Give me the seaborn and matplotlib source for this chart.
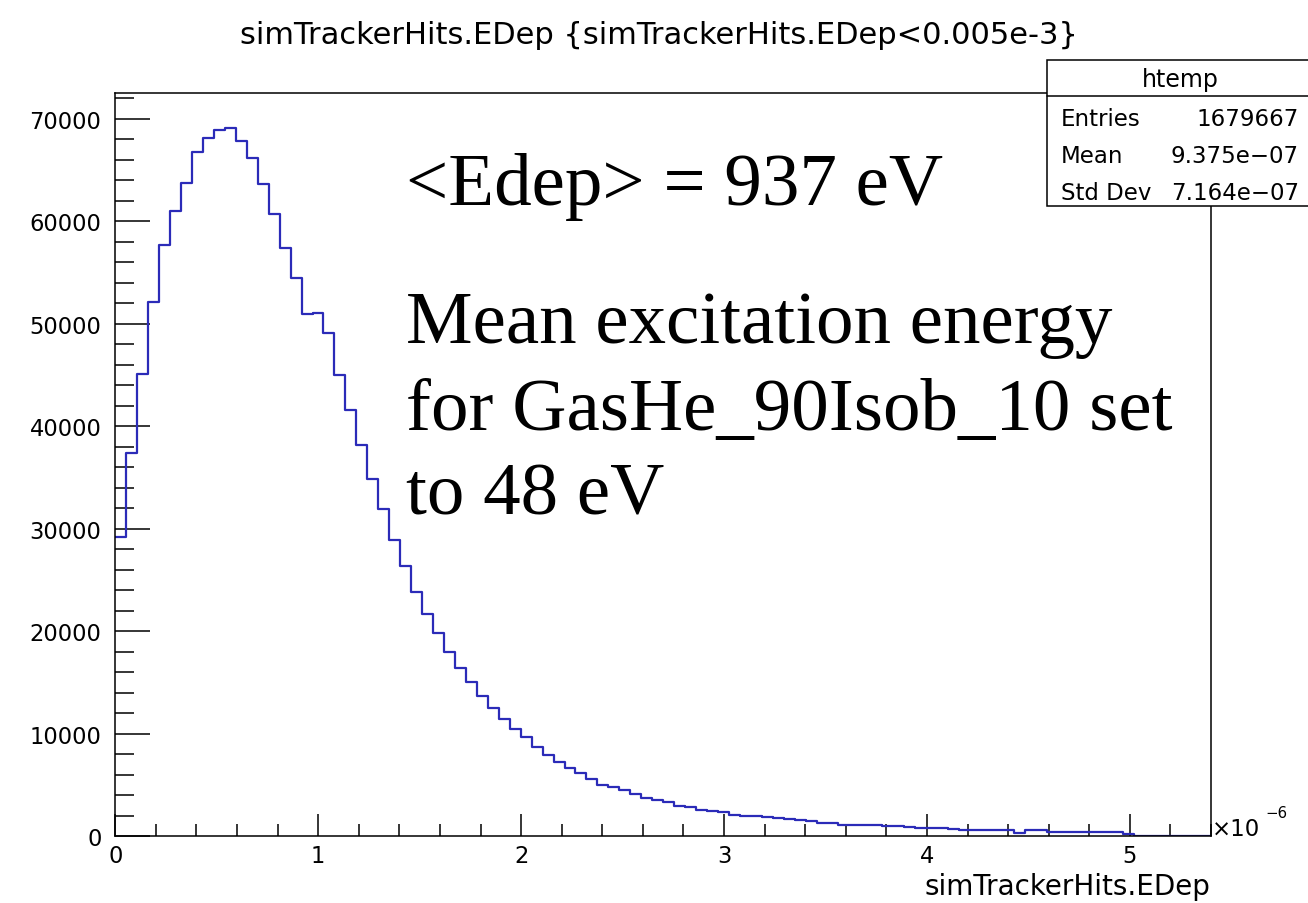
import numpy as np
import pandas as pd
import seaborn as sns
import matplotlib.pyplot as plt
from matplotlib.ticker import MultipleLocator, FuncFormatter
from matplotlib.patches import Rectangle

sns.set_style('ticks')
plt.rcParams['font.family'] = ['DejaVu Sans']
plt.rcParams['text.color'] = 'black'
plt.rcParams['xtick.color'] = 'black'
plt.rcParams['ytick.color'] = 'black'

# histogram definition (ROOT htemp: 100 bins from 0 to 5.4e-6)
n_bins = 100
x_min, x_max = 0.0, 5.4e-6

# bin contents (bins with data only, the rest are empty)
counts = [29200, 37400, 45100, 52100, 57700, 61000, 63700, 66700, 68100, 68900,
          69100, 67800, 66200, 63600, 60700, 57400, 54400, 50900, 51000, 49100,
          45000, 41600, 38200, 34800, 31900, 28900, 26300, 23800, 21700, 19800,
          18000, 16400, 15000, 13700, 12500, 11400, 10400, 9700, 8700, 7900,
          7200, 6600, 6100, 5600, 5000, 4800, 4500, 4100, 3700, 3500,
          3300, 2900, 2800, 2500, 2400, 2300, 2050, 2000, 1950, 1900,
          1750, 1700, 1520, 1500, 1300, 1280, 1100, 1100, 1080, 1080,
          940, 940, 920, 750, 740, 740, 720, 560, 550, 550,
          550, 540, 320, 580, 570, 400, 390, 390, 390, 380,
          380, 380, 160]

title = 'simTrackerHits.EDep {simTrackerHits.EDep<0.005e-3}'
x_title = 'simTrackerHits.EDep'
stats_name = 'htemp'
stats_rows = [('Entries', '1679667'), ('Mean', '9.375e\u221207'), ('Std Dev', '7.164e\u221207')]
note_lines = ['<Edep> = 937 eV', 'Mean excitation energy', 'for GasHe_90Isob_10 set', 'to 48 eV']

edges = np.linspace(x_min, x_max, n_bins + 1)
centers = (edges[:-1] + edges[1:])[:len(counts)] / 2
df = pd.DataFrame({'edep': centers, 'count': counts})

W, H = 1308, 904
fig = plt.figure(figsize=(W / 100, H / 100), dpi=100)
fig.patch.set_facecolor('white')
ax = fig.add_axes([115.3 / W, 1 - 837 / H, (1211 - 115.3) / W, (837 - 94) / H])

sns.histplot(data=df, x='edep', weights='count', bins=n_bins, binrange=(x_min, x_max),
             element='step', fill=False, color='#2b2bb8', linewidth=1.6, ax=ax)

ax.set_xlim(x_min, x_max)
ax.set_ylim(0, 72500)
ax.set_xlabel('')
ax.set_ylabel('')
for s in ax.spines.values():
    s.set_visible(True)
    s.set_linewidth(1.1)
    s.set_color('black')

ax.xaxis.set_major_locator(MultipleLocator(1e-6))
ax.xaxis.set_minor_locator(MultipleLocator(0.2e-6))
ax.xaxis.set_major_formatter(FuncFormatter(lambda v, p: f'{v * 1e6:.0f}'))
ax.yaxis.set_major_locator(MultipleLocator(10000))
ax.yaxis.set_minor_locator(MultipleLocator(2000))
ax.tick_params(axis='x', which='major', direction='in', length=15.6, width=1.1, pad=6, labelsize=16.3)
ax.tick_params(axis='x', which='minor', direction='in', length=8.4, width=1.1)
ax.tick_params(axis='y', which='major', direction='in', length=25, width=1.1, pad=10, labelsize=16.3)
ax.tick_params(axis='y', which='minor', direction='in', length=13.7, width=1.1)
ax.tick_params(top=False, right=False, which='both')

# title and axis title
fig.text(659 / W, 1 - 44 / H, title, ha='center', va='baseline', fontsize=22)
fig.text(1210 / W, 1 - 895 / H, x_title, ha='right', va='baseline', fontsize=20)
fig.text(1212 / W, 1 - 836 / H, '\u00d710', ha='left', va='baseline', fontsize=16.5)
fig.text(1288 / W, 1 - 818 / H, '\u22126', ha='right', va='baseline', fontsize=10.8)

# annotation block
note_base = [205, 343, 430, 515]
for line, yb in zip(note_lines, note_base):
    fig.text(406 / W, 1 - yb / H, line, ha='left', va='baseline', fontsize=54,
             family=['Liberation Serif', 'DejaVu Serif'])

# stats box
box = Rectangle((1046.7 / W, 1 - 206.7 / H), (1320 - 1046.7) / W, (206.7 - 61) / H,
                transform=fig.transFigure, facecolor='white', edgecolor='black',
                linewidth=1.1, zorder=10, clip_on=False)
fig.add_artist(box)
fig.add_artist(plt.Line2D([1046.7 / W, 1], [1 - 96.7 / H] * 2, transform=fig.transFigure,
                          color='black', linewidth=1.1, zorder=11))
fig.text(1180 / W, 1 - 87 / H, stats_name, ha='center', va='baseline', fontsize=17, zorder=12)
for (lab, val), yb in zip(stats_rows, [126, 163.3, 200]):
    fig.text(1060.7 / W, 1 - yb / H, lab, ha='left', va='baseline', fontsize=16.5, zorder=12)
    fig.text(1299 / W, 1 - yb / H, val, ha='right', va='baseline', fontsize=16.5, zorder=12)

fig.savefig('out.png', dpi=100, facecolor='white')
